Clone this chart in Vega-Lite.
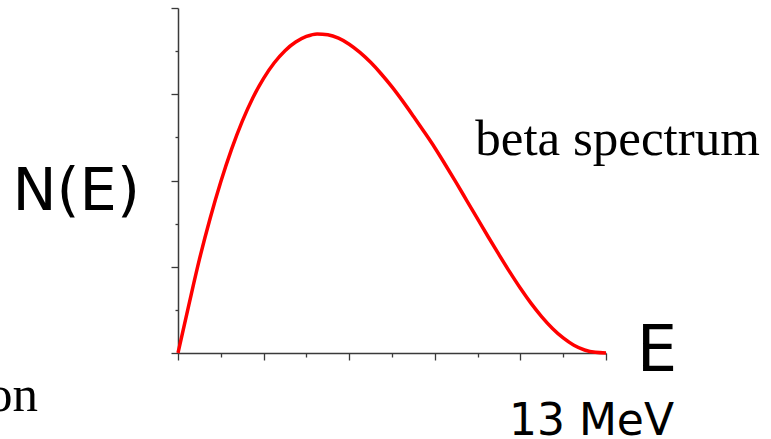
{
  "$schema": "https://vega.github.io/schema/vega-lite/v6.json",
  "width": 428,
  "height": 345,
  "autosize": {"type": "none"},
  "padding": {"left": 178, "top": 8, "right": 165, "bottom": 86},
  "background": "white",
  "config": {
    "view": {"stroke": null},
    "axis": {"grid": false, "labels": false, "title": null, "domainColor": "#3a3a3a", "domainWidth": 1.5, "tickColor": "#3a3a3a", "tickWidth": 1.3}
  },
  "layer": [
    {
      "data": {"values": [
        {"E": 0, "N": 0},
        {"E": 0.25, "N": 1.1},
        {"E": 0.5, "N": 2.17},
        {"E": 0.75, "N": 3.12},
        {"E": 1.0, "N": 3.97},
        {"E": 1.25, "N": 4.72},
        {"E": 1.5, "N": 5.37},
        {"E": 1.75, "N": 5.92},
        {"E": 2.0, "N": 6.37},
        {"E": 2.25, "N": 6.73},
        {"E": 2.5, "N": 7.01},
        {"E": 2.75, "N": 7.21},
        {"E": 3.0, "N": 7.34},
        {"E": 3.25, "N": 7.4},
        {"E": 3.5, "N": 7.38},
        {"E": 3.75, "N": 7.3},
        {"E": 4.0, "N": 7.16},
        {"E": 4.25, "N": 6.97},
        {"E": 4.5, "N": 6.74},
        {"E": 4.75, "N": 6.47},
        {"E": 5.0, "N": 6.17},
        {"E": 5.25, "N": 5.84},
        {"E": 5.5, "N": 5.49},
        {"E": 5.75, "N": 5.13},
        {"E": 6.0, "N": 4.76},
        {"E": 6.25, "N": 4.36},
        {"E": 6.5, "N": 3.95},
        {"E": 6.75, "N": 3.53},
        {"E": 7.0, "N": 3.11},
        {"E": 7.25, "N": 2.69},
        {"E": 7.5, "N": 2.28},
        {"E": 7.75, "N": 1.88},
        {"E": 8.0, "N": 1.5},
        {"E": 8.25, "N": 1.15},
        {"E": 8.5, "N": 0.84},
        {"E": 8.75, "N": 0.57},
        {"E": 9.0, "N": 0.35},
        {"E": 9.25, "N": 0.18},
        {"E": 9.5, "N": 0.07},
        {"E": 9.75, "N": 0.015},
        {"E": 10, "N": 0}
      ]},
      "mark": {"type": "line", "color": "#ff0000", "strokeWidth": 3.5, "interpolate": "monotone", "clip": false},
      "encoding": {
        "x": {"field": "E", "type": "quantitative", "scale": {"domain": [0, 10], "nice": false, "zero": false},
          "axis": {"values": [0,1,2,3,4,5,6,7,8,9,10], "tickSize": {"condition": {"test": "datum.value % 2 === 0", "value": 7}, "value": 4}}},
        "y": {"field": "N", "type": "quantitative", "scale": {"domain": [0, 8], "nice": false, "zero": false},
          "axis": {"values": [0,1,2,3,4,5,6,7,8], "tickSize": {"condition": {"test": "datum.value % 2 === 0", "value": 7}, "value": 3}}}
      }
    },
    {
      "data": {"values": [{}]},
      "mark": {"type": "text", "text": "N(E)", "font": "DejaVu Sans", "fontSize": 59, "align": "right", "baseline": "alphabetic", "color": "black"},
      "encoding": {"x": {"datum": -0.89}, "y": {"datum": 3.32}}
    },
    {
      "data": {"values": [{}]},
      "mark": {"type": "text", "text": "E", "font": "DejaVu Sans", "fontSize": 64, "align": "left", "baseline": "alphabetic", "color": "black"},
      "encoding": {"x": {"datum": 10.72}, "y": {"datum": -0.42}}
    },
    {
      "data": {"values": [{}]},
      "mark": {"type": "text", "text": "13 MeV", "font": "DejaVu Sans", "fontSize": 44, "align": "center", "baseline": "alphabetic", "color": "black"},
      "encoding": {"x": {"datum": 9.66}, "y": {"datum": -1.9}}
    },
    {
      "data": {"values": [{}]},
      "mark": {"type": "text", "text": "beta spectrum", "font": "Liberation Serif", "fontSize": 51, "align": "center", "baseline": "alphabetic", "color": "black"},
      "encoding": {"x": {"datum": 10.27}, "y": {"datum": 4.59}}
    },
    {
      "data": {"values": [{}]},
      "mark": {"type": "text", "text": "on", "font": "Liberation Serif", "fontSize": 51, "align": "right", "baseline": "alphabetic", "color": "black"},
      "encoding": {"x": {"datum": -3.27}, "y": {"datum": -1.34}}
    }
  ]
}
